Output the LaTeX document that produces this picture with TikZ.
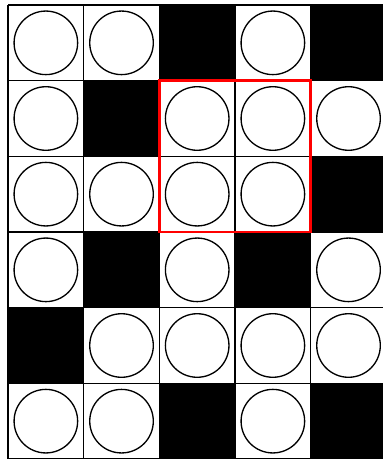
\documentclass[tikz,border=0pt]{standalone}
\begin{document}
\begin{tikzpicture}[x=1cm,y=-1cm]
  \useasboundingbox (-0.106,-0.066) rectangle (4.954,6.0);
  % 1 = blocked cell, 0 = cell with a disc
  \foreach \row [count=\r from 0] in {{0,0,1,0,1},{0,1,0,0,0},{0,0,0,0,1},{0,1,0,1,0},{1,0,0,0,0},{0,0,1,0,1}}
    \foreach \v [count=\c from 0] in \row {
      \ifnum\v=1
        \fill (\c,\r) rectangle ++(1,1);
      \else
        \draw[line width=0.5pt] (\c+0.5,\r+0.5) circle (0.42);
      \fi
    };
  \draw[line width=0.5pt] (0,0) grid (5,6);
  \draw[red,line width=1pt] (2,1) rectangle (4,3);
\end{tikzpicture}
\end{document}
